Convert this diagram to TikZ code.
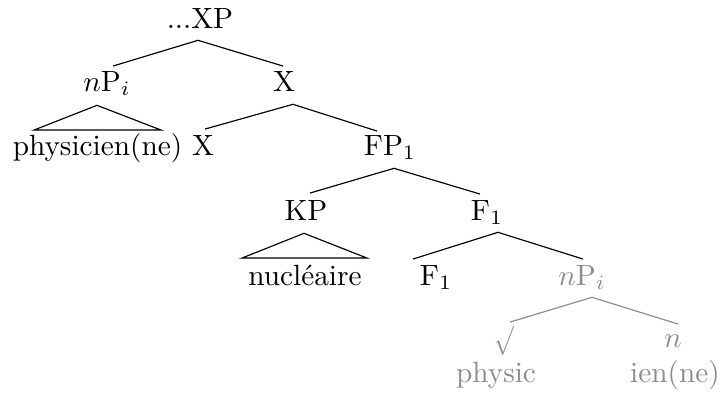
\documentclass[tikz,border=0pt]{standalone}
\usepackage{graphicx}
\usetikzlibrary{calc}
\definecolor{ghost}{gray}{0.55}
\begin{document}
\begin{tikzpicture}[x=0.3413pt,y=-0.3413pt,
  lab/.style={anchor=base, inner xsep=1pt, inner ysep=2pt, text height=7pt, text depth=2pt},
  ghostlab/.style={lab, text=ghost},
  edge/.style={line width=0.4pt, draw=black},
  ghostedge/.style={line width=0.4pt, draw=ghost}]
\useasboundingbox (0,0) rectangle (723,392);
% nodes
\node[lab] (xp) at (200,28) {...XP};
\node[lab] (np) at (107,91) {$n$P$_i$};
\node[lab] (xu) at (284,91) {X};
\node[lab] (phys) at (97.5,155) {physicien(ne)};
\node[lab] (xl) at (203,155) {X};
\node[lab] (fp) at (390,155) {FP$_1$};
\node[lab] (kp) at (306,220) {KP};
\node[lab] (f1) at (487,220) {F$_1$};
\node[lab] (nuc) at (305,285) {nucléaire};
\node[lab] (f1l) at (436,285) {F$_1$};
\node[ghostlab] (npg) at (582,285) {$n$P$_i$};
\node[ghostlab] (sq) at (504,347) {\raisebox{-0.3pt}{\scalebox{0.8}[1]{$\surd$}}};
\node[ghostlab] (nn) at (673,347) {$n$};
\node[ghostlab] (physic) at (496,382) {physic};
\node[ghostlab] (ien) at (675,382) {ien(ne)};
% edges
\draw[edge] ($(np.north)+(6,2)$) -- ($(xp.south)+(-2,0)$) -- ($(xu.north)+(-1,2)$);
\draw[edge] ($(phys.north)+(-63.5,2)$) -- ($(np.south)+(-10,2)$) -- ($(phys.north)+(63.5,2)$) -- cycle;
\draw[edge] ($(xl.north)+(2,1)$) -- ($(xu.south)+(9,1)$) -- ($(fp.north)+(-13,3)$);
\draw[edge] ($(kp.north)+(4,0)$) -- ($(fp.south)+(4,1)$) -- ($(f1.north)+(-7,1)$);
\draw[edge] ($(nuc.north)+(-63,0)$) -- ($(kp.south)+(-2,1)$) -- ($(nuc.north)+(62,0)$) -- cycle;
\draw[edge] ($(f1l.north)+(-23,1)$) -- ($(f1.south)+(11,0)$) -- ($(npg.north)+(1,1)$);
\draw[ghostedge] ($(sq.north)+(6,2)$) -- ($(npg.south)+(10,0)$) -- ($(nn.north)+(5,4)$);
\end{tikzpicture}
\end{document}
